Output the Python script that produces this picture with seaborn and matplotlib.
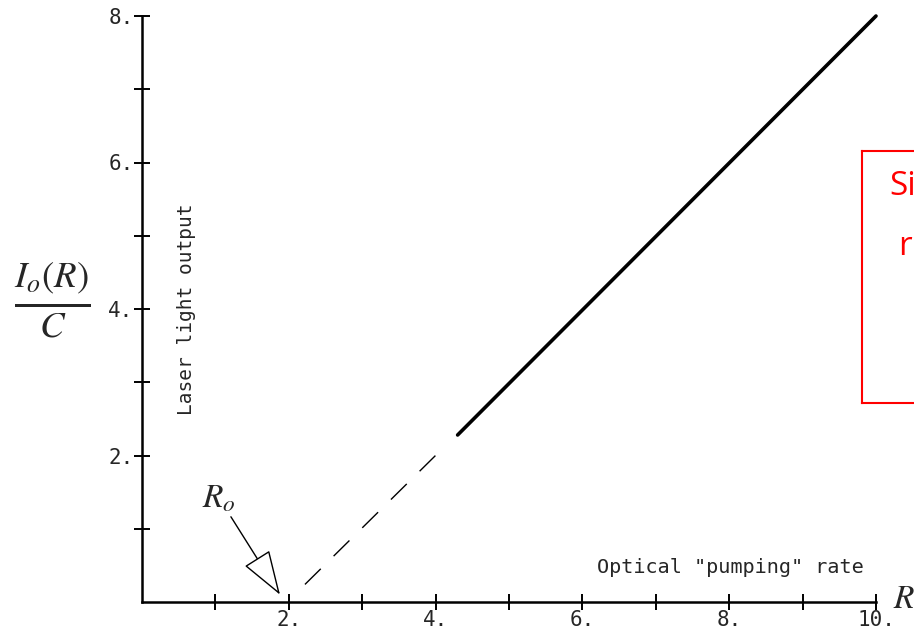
import numpy as np
import matplotlib.pyplot as plt
import seaborn as sns

# values
R_solid = [4.3, 10.0]
I_solid = [2.28, 8.0]
R_dashed = [2.22, 4.1]
I_dashed = [0.24, 2.1]
R_zero = 2.0
x_major = [2, 4, 6, 8, 10]
x_minor = [1, 3, 5, 7, 9]
y_major = [2, 4, 6, 8]
y_minor = [1, 3, 5, 7]

sns.set_style("white")
plt.rcParams["font.family"] = ["DejaVu Sans Mono", "DejaVu Sans"]
plt.rcParams["mathtext.fontset"] = "stix"

fig = plt.figure(figsize=(9.14, 6.35), dpi=100)
ax = fig.add_axes([142 / 914, 33 / 635, 734 / 914, 586 / 635])

sns.lineplot(x=R_solid, y=I_solid, ax=ax, color="black", lw=2.6, clip_on=False)
ax.plot(R_dashed, I_dashed, color="black", lw=1.0, ls=(0, (16, 13)))

ax.set_xlim(0, 10)
ax.set_ylim(0, 8)
for s in ["top", "right"]:
    ax.spines[s].set_visible(False)
for s in ["left", "bottom"]:
    ax.spines[s].set_linewidth(1.8)
    ax.spines[s].set_color("black")

ax.set_xticks(x_major)
ax.set_xticklabels([f"{v}." for v in x_major])
ax.set_xticks(x_minor, minor=True)
ax.set_yticks(y_major)
ax.set_yticklabels([f"{v}." for v in y_major])
ax.set_yticks(y_minor, minor=True)
ax.tick_params(which="both", direction="inout", length=12, width=1.4, color="black",
               labelsize=15, pad=0, bottom=True, left=True)

ax.text(6.2, 0.47, 'Optical "pumping" rate', fontsize=14.5, ha="left", va="center")
ax.text(0.6, 4.0, "Laser light output", fontsize=14, rotation=90, ha="center", va="center")

ax.annotate(r"$R_o$", xy=(R_zero - 0.12, 0.1), xytext=(1.05, 1.42), fontsize=24,
            ha="center", va="center",
            arrowprops=dict(arrowstyle="-|>,head_length=1.2,head_width=0.4",
                            fc="white", ec="black", lw=1.0, shrinkB=0,
                            patchA=None, shrinkA=16))

fig.text(52 / 914, 1 - 300 / 635, r"$\frac{I_o(R)}{C}$", fontsize=38, ha="center", va="center")
fig.text(904 / 914, 1 - 598 / 635, r"$R$", fontsize=24, ha="center", va="center")

# red box clipped by the right edge
box = fig.add_axes([862 / 914, 1 - 403 / 635, 60 / 914, 252 / 635])
box.set_xlim(0, 1)
box.set_ylim(0, 1)
box.set_xticks([])
box.set_yticks([])
box.patch.set_alpha(0)
for s in ["left", "top", "bottom"]:
    box.spines[s].set_color("red")
    box.spines[s].set_linewidth(1.5)
box.spines["right"].set_visible(False)
box.text(0.45, 0.86, "Si", color="red", fontsize=24, family=["Open Sans", "DejaVu Sans"],
         ha="left", va="center", clip_on=True)
box.text(0.6, 0.62, "r", color="red", fontsize=24, family=["Open Sans", "DejaVu Sans"],
         ha="left", va="center", clip_on=True)

fig.savefig("out.png", dpi=100)
